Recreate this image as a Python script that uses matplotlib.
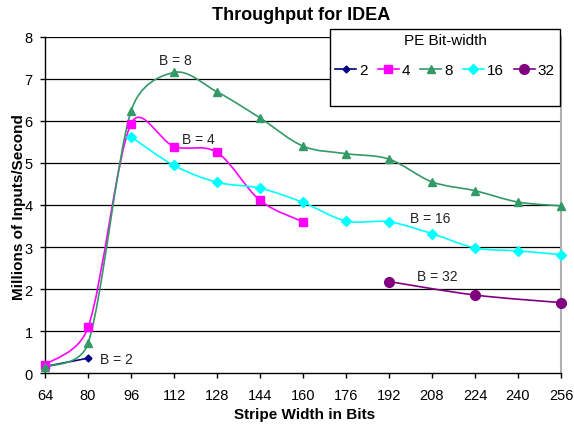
import math
import matplotlib
matplotlib.use("Agg")
import matplotlib.pyplot as plt
from matplotlib.path import Path
from matplotlib.patches import PathPatch, Rectangle
from matplotlib.lines import Line2D

plt.rcParams['font.family'] = ['Liberation Sans', 'DejaVu Sans']

x_ticks = [64, 80, 96, 112, 128, 144, 160, 176, 192, 208, 224, 240, 256]
y_ticks = [0, 1, 2, 3, 4, 5, 6, 7, 8]

x2 = [64, 80]
y2 = [0.16, 0.36]
x4 = [64, 80, 96, 112, 128, 144, 160]
y4 = [0.20, 1.09, 5.93, 5.39, 5.25, 4.11, 3.60]
x8 = [64, 80, 96, 112, 128, 144, 160, 176, 192, 208, 224, 240, 256]
y8 = [0.14, 0.71, 6.23, 7.15, 6.69, 6.07, 5.40, 5.22, 5.09, 4.55, 4.34, 4.07, 3.98]
x16 = [96, 112, 128, 144, 160, 176, 192, 208, 224, 240, 256]
y16 = [5.62, 4.94, 4.54, 4.40, 4.06, 3.62, 3.60, 3.32, 2.98, 2.91, 2.82]
x32 = [192, 224, 256]
y32 = [2.18, 1.86, 1.68]

labels = ['2', '4', '8', '16', '32']
colors = ['#000080', '#FF00FF', '#339966', '#00FFFF', '#800080']
markers = ['D', 's', '^', 'D', 'o']
msizes = [3.5, 6, 6, 5.5, 7]

series = [(x2, y2), (x4, y4), (x8, y8), (x16, y16), (x32, y32)]

annotations = [("B = 8", 112.5, 7.45), ("B = 4", 121, 5.58), ("B = 2", 90.5, 0.33),
               ("B = 16", 207.5, 3.70), ("B = 32", 210, 2.31)]

W, H = 574, 427
L, R, T, B = 45, 561, 37.7, 374.3
SX = (R - L) / (256 - 64)   # px per x unit
SY = (B - T) / 8.0          # px per y unit


def smooth_path(xs, ys):
    # Excel-like smoothing: Catmull-Rom bezier, control arm capped at half segment (screen space)
    pts = [(x * SX, y * SY) for x, y in zip(xs, ys)]
    n = len(pts)

    def arm(a, b, seg):
        vx, vy = (b[0] - a[0]) / 6.0, (b[1] - a[1]) / 6.0
        ln = math.hypot(vx, vy)
        cap = seg / 2.0
        if ln > cap and ln > 0:
            vx, vy = vx * cap / ln, vy * cap / ln
        return vx, vy

    verts = [pts[0]]
    codes = [Path.MOVETO]
    for i in range(n - 1):
        p0 = pts[i - 1] if i > 0 else pts[i]
        p1 = pts[i]
        p2 = pts[i + 1]
        p3 = pts[i + 2] if i + 2 < n else pts[i + 1]
        seg = math.hypot(p2[0] - p1[0], p2[1] - p1[1])
        a1 = arm(p0, p2, seg)
        a2 = arm(p1, p3, seg)
        c1 = (p1[0] + a1[0], p1[1] + a1[1])
        c2 = (p2[0] - a2[0], p2[1] - a2[1])
        verts += [c1, c2, p2]
        codes += [Path.CURVE4] * 3
    verts = [(vx / SX, vy / SY) for vx, vy in verts]
    return Path(verts, codes)


fig = plt.figure(figsize=(5.74, 4.27), dpi=100)
ax = fig.add_axes([L / W, 1 - B / H, (R - L) / W, (B - T) / H])

ax.set_xlim(64, 256)
ax.set_ylim(0, 8)
ax.set_xticks(x_ticks)
ax.set_yticks(y_ticks)
ax.tick_params(axis='both', labelsize=10.5, direction='out', length=3.5, width=1, color='black')
ax.tick_params(axis='x', pad=7)
ax.tick_params(axis='y', pad=5.5)

for yv in y_ticks[1:]:
    ax.axhline(yv, color='black', lw=0.9, zorder=1)

ax.spines['top'].set_visible(False)
ax.spines['right'].set_color('#b0b0b0')
ax.spines['right'].set_linewidth(1.5)
ax.spines['left'].set_linewidth(1.0)
ax.spines['bottom'].set_linewidth(1.0)

handles = []
for (xs, ys), c, m, ms, lab in zip(series, colors, markers, msizes, labels):
    patch = PathPatch(smooth_path(xs, ys), facecolor='none', edgecolor=c, lw=1.2, zorder=3)
    ax.add_patch(patch)
    ax.plot(xs, ys, linestyle='none', marker=m, color=c, ms=ms, zorder=4, clip_on=False)
    handles.append(Line2D([0], [0], color=c, lw=1.2, marker=m, ms=ms))

for txt, xv, yv in annotations:
    ax.text(xv, yv, txt, fontsize=10, ha='center', va='center', color='#222222', zorder=5)

fig.text(301 / W, 1 - 15 / H, "Throughput for IDEA", ha='center', va='center',
         fontsize=13, fontweight='bold')
fig.text(304.5 / W, 1 - 415 / H, "Stripe Width in Bits", ha='center', va='center',
         fontsize=11, fontweight='bold')
fig.text(19 / W, 1 - 207.5 / H, "Millions of Inputs/Second", ha='center', va='center',
         rotation=90, fontsize=11, fontweight='bold')

# legend frame
lx0, lx1, ly0, ly1 = 330, 560, 30, 107
fig.patches.append(Rectangle((lx0 / W, 1 - ly1 / H), (lx1 - lx0) / W, (ly1 - ly0) / H,
                             transform=fig.transFigure, facecolor='white',
                             edgecolor='black', lw=1.0, zorder=10))
fig.text((lx0 + lx1) / 2 / W, 1 - 41 / H, "PE Bit-width", ha='center', va='center',
         fontsize=11, zorder=11)
leg = fig.legend(handles, labels, loc='center', bbox_to_anchor=((lx0 + lx1) / 2 / W, 1 - 71 / H),
                 ncol=5, frameon=False, fontsize=11, handlelength=1.37,
                 handletextpad=0.2, columnspacing=0.65, borderpad=0)
leg.set_zorder(11)

fig.savefig("out.png", dpi=100)
